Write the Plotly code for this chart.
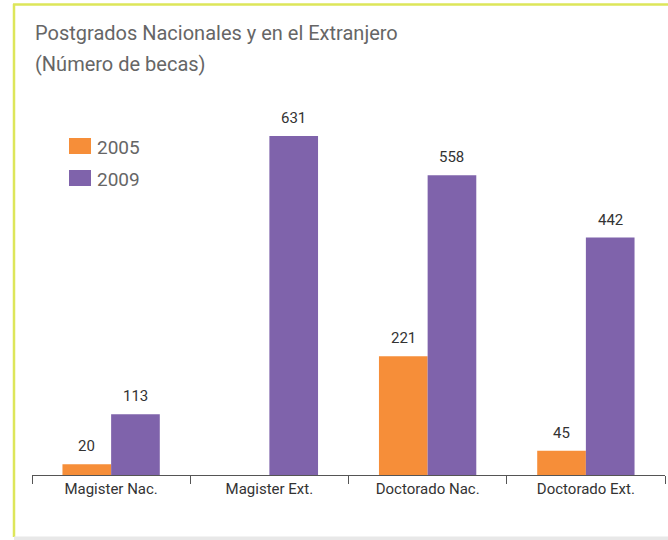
import plotly.graph_objects as go

categories = ["Magister Nac.", "Magister Ext.", "Doctorado Nac.", "Doctorado Ext."]
series_names = ["2005", "2009"]
values_2005 = [20, None, 221, 45]
values_2009 = [113, 631, 558, 442]
title_lines = ["Postgrados Nacionales y en el Extranjero", "(Número de becas)"]

colors = ["#F68E39", "#7F63AB"]
FONT = "Roboto, Arial, sans-serif"

W, H = 668, 540
ml, mr, mt, mb = 32, 3, 100, 65
pw, ph = W - ml - mr, H - mt - mb
BARGAP = 0.385


def px_x(x):
    return (x - ml) / pw


def px_y(y):
    return (H - mb - y) / ph


fig = go.Figure()
series = [values_2005, values_2009]
cat_w = pw / len(categories)
bar_w = cat_w * (1 - BARGAP) / len(series)
for k, (name, vals, col) in enumerate(zip(series_names, series, colors)):
    fig.add_trace(go.Bar(
        x=categories, y=vals, name=name, marker=dict(color=col, line=dict(width=0)),
        showlegend=False,
    ))
    shift = (k - (len(series) - 1) / 2) * bar_w
    for c, v in zip(categories, vals):
        if v is None:
            continue
        fig.add_annotation(x=c, y=v, text=str(v), xref="x", yref="y",
                           xanchor="center", yanchor="bottom", xshift=shift, yshift=7,
                           showarrow=False,
                           font=dict(family=FONT, size=15, color="#333333"))

fig.update_layout(
    width=W, height=H,
    margin=dict(l=ml, r=mr, t=mt, b=mb),
    paper_bgcolor="white", plot_bgcolor="white",
    barmode="group", bargap=BARGAP, bargroupgap=0,
    showlegend=False,
    font=dict(family=FONT),
    xaxis=dict(showgrid=False, showline=True, linecolor="#555555", linewidth=1,
               ticks="outside", tickson="boundaries", ticklen=8, tickcolor="#555555",
               tickfont=dict(family=FONT, size=15, color="#333333"), fixedrange=True),
    yaxis=dict(range=[0, ph / (475 - 136) * 631], visible=False, showgrid=False,
               zeroline=False, fixedrange=True),
)

# Legend (drawn manually to match the wide swatches)
for i, (name, col) in enumerate(zip(series_names, colors)):
    yc = 146 + 32 * i
    fig.add_shape(type="rect", xref="paper", yref="paper",
                  x0=px_x(69), x1=px_x(91), y0=px_y(yc - 8), y1=px_y(yc + 8),
                  line=dict(width=0), fillcolor=col)
    fig.add_annotation(text=name, xref="paper", yref="paper", x=px_x(95), y=px_y(yc + 1),
                       xanchor="left", yanchor="middle", showarrow=False,
                       font=dict(family=FONT, size=19, color="#666666"))

# Title
for i, line in enumerate(title_lines):
    fig.add_annotation(text=line, xref="paper", yref="paper",
                       x=px_x(33), y=px_y(33 + 31 * i), xanchor="left", yanchor="middle",
                       showarrow=False, font=dict(family=FONT, size=20, color="#666666"))

# Frame lines
fig.add_shape(type="line", xref="paper", yref="paper", x0=px_x(13), x1=px_x(668),
              y0=px_y(4.5), y1=px_y(4.5), line=dict(color="#DDE65A", width=2.5))
fig.add_shape(type="line", xref="paper", yref="paper", x0=px_x(14), x1=px_x(14),
              y0=px_y(4), y1=px_y(537), line=dict(color="#DDE65A", width=2.5))
fig.add_shape(type="rect", xref="paper", yref="paper", x0=px_x(14), x1=px_x(668),
              y0=px_y(536.5), y1=px_y(540), line=dict(width=0), fillcolor="#E8E8E8")

fig.write_html("out.html", config={"displayModeBar": False},
               post_script="document.body.style.margin='0px';")
